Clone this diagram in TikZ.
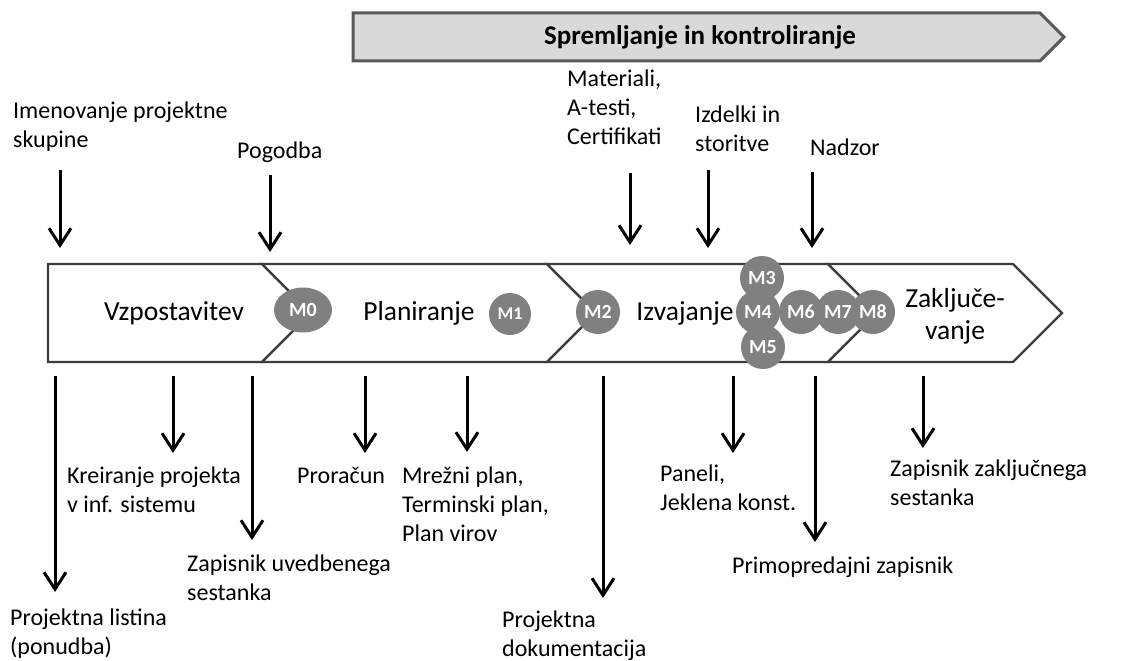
\documentclass[tikz,border=0pt]{standalone}
\usepackage{fontspec}
\setmainfont{Carlito}
\usetikzlibrary{arrows.meta,shapes.geometric}
\definecolor{msgray}{RGB}{128,128,128}
\definecolor{barfill}{RGB}{217,217,217}
\definecolor{edge}{RGB}{60,60,60}
\begin{document}
\begin{tikzpicture}[x=1pt,y=-1pt,
  arr/.style={line width=3pt,-{Straight Barb[length=17pt,width=22pt]}},
  ann/.style={anchor=north west,inner sep=0pt,align=left,font=\fontsize{24}{29}\selectfont},
  phase/.style={inner sep=0pt,align=center,font=\fontsize{27.5}{32}\selectfont},
  seg/.style={draw=edge,line width=2.4pt,fill=white,line join=miter},
  ms/.style={circle,fill=msgray,text=white,inner sep=0pt,minimum size=44pt,
    font=\fontsize{20}{20}\selectfont\bfseries},
  bar/.style={draw=black!65,line width=3pt,fill=barfill,line join=miter}]
\useasboundingbox (0,0) rectangle (1125,661);

% monitoring bar
\draw[bar] (353,13) -- (1040,13) -- (1064,37) -- (1040,61) -- (353,61) -- cycle;
\node[font=\fontsize{27}{27}\selectfont\bfseries] (ctrl) at (700,37) {Spremljanje in kontroliranje};

% phase band
\draw[seg] (48,264) -- (262,264) -- (311,313) -- (262,362) -- (48,362) -- cycle;
\draw[seg] (262,264) -- (547,264) -- (596,313) -- (547,362) -- (262,362) -- (311,313) -- cycle;
\draw[seg] (547,264) -- (828,264) -- (877,313) -- (828,362) -- (547,362) -- (596,313) -- cycle;
\draw[seg] (828,264) -- (1013,264) -- (1062,313) -- (1013,362) -- (828,362) -- (877,313) -- cycle;

\node[phase] (p1) at (174,313) {Vzpostavitev};
\node[phase] (p2) at (419,313) {Planiranje};
\node[phase] (p3) at (685,313) {Izvajanje};
\node[phase] (p4) at (955,316) {Zaključe-\\vanje};

% milestones
\node[ms,ellipse,minimum width=58pt,minimum height=45pt] (m0) at (303,310) {M0};
\node[ms,minimum size=42pt,font=\fontsize{18}{18}\selectfont\bfseries] (m1) at (510,314) {M1};
\node[ms] (m2) at (598,312) {M2};
\node[ms] (m3) at (762,278) {M3};
\node[ms] (m5) at (763,347) {M5};
\node[ms] (m4) at (758,312) {M4};
\node[ms] (m6) at (801,312) {M6};
\node[ms] (m7) at (838,312) {M7};
\node[ms] (m8) at (873,312) {M8};

% inputs above the band
\node[ann] (imen) at (13,98) {\strut Imenovanje projektne\\skupine};
\node[ann] (pogo) at (237,138) {\strut Pogodba};
\node[ann] (mate) at (567,66) {\strut Materiali,\\A-testi,\\Certifikati};
\node[ann] (izde) at (695,102) {\strut Izdelki in\\storitve};
\node[ann] (nadz) at (810,135) {\strut Nadzor};

% outputs below the band
\node[ann] (list) at (10,605) {\strut Projektna listina\\(ponudba)};
\node[ann] (krei) at (67,463) {\strut Kreiranje projekta\\v inf. sistemu};
\node[ann] (uved) at (187,551) {\strut Zapisnik uvedbenega\\sestanka};
\node[ann] (pror) at (297,463) {\strut Proračun};
\node[ann] (mrez) at (402,463) {\strut Mrežni plan,\\Terminski plan,\\Plan virov};
\node[ann] (pdok) at (502,607) {\strut Projektna\\dokumentacija};
\node[ann] (pane) at (660,461) {\strut Paneli,\\Jeklena konst.};
\node[ann] (prim) at (732,553) {\strut Primopredajni zapisnik};
\node[ann] (zakl) at (890,456) {\strut Zapisnik zaključnega\\sestanka};

% arrows
\foreach \n/\x/\ya/\yb in {ia/60/170/248, ib/270/175/252, ic/630/173/245, id/708/170/248, ie/812/172/248,
  oa/55/376/592, ob/173/376/453, oc/252/376/540, od/365/376/453, oe/467/376/452,
  of/603/376/598, og/733/376/453, oh/815/376/542, oi/923/376/448}{
  \coordinate (\n s) at (\x,\ya);
  \coordinate (\n e) at (\x,\yb);
  \draw[arr] (\n s) -- (\n e);
}
\end{tikzpicture}
\end{document}
